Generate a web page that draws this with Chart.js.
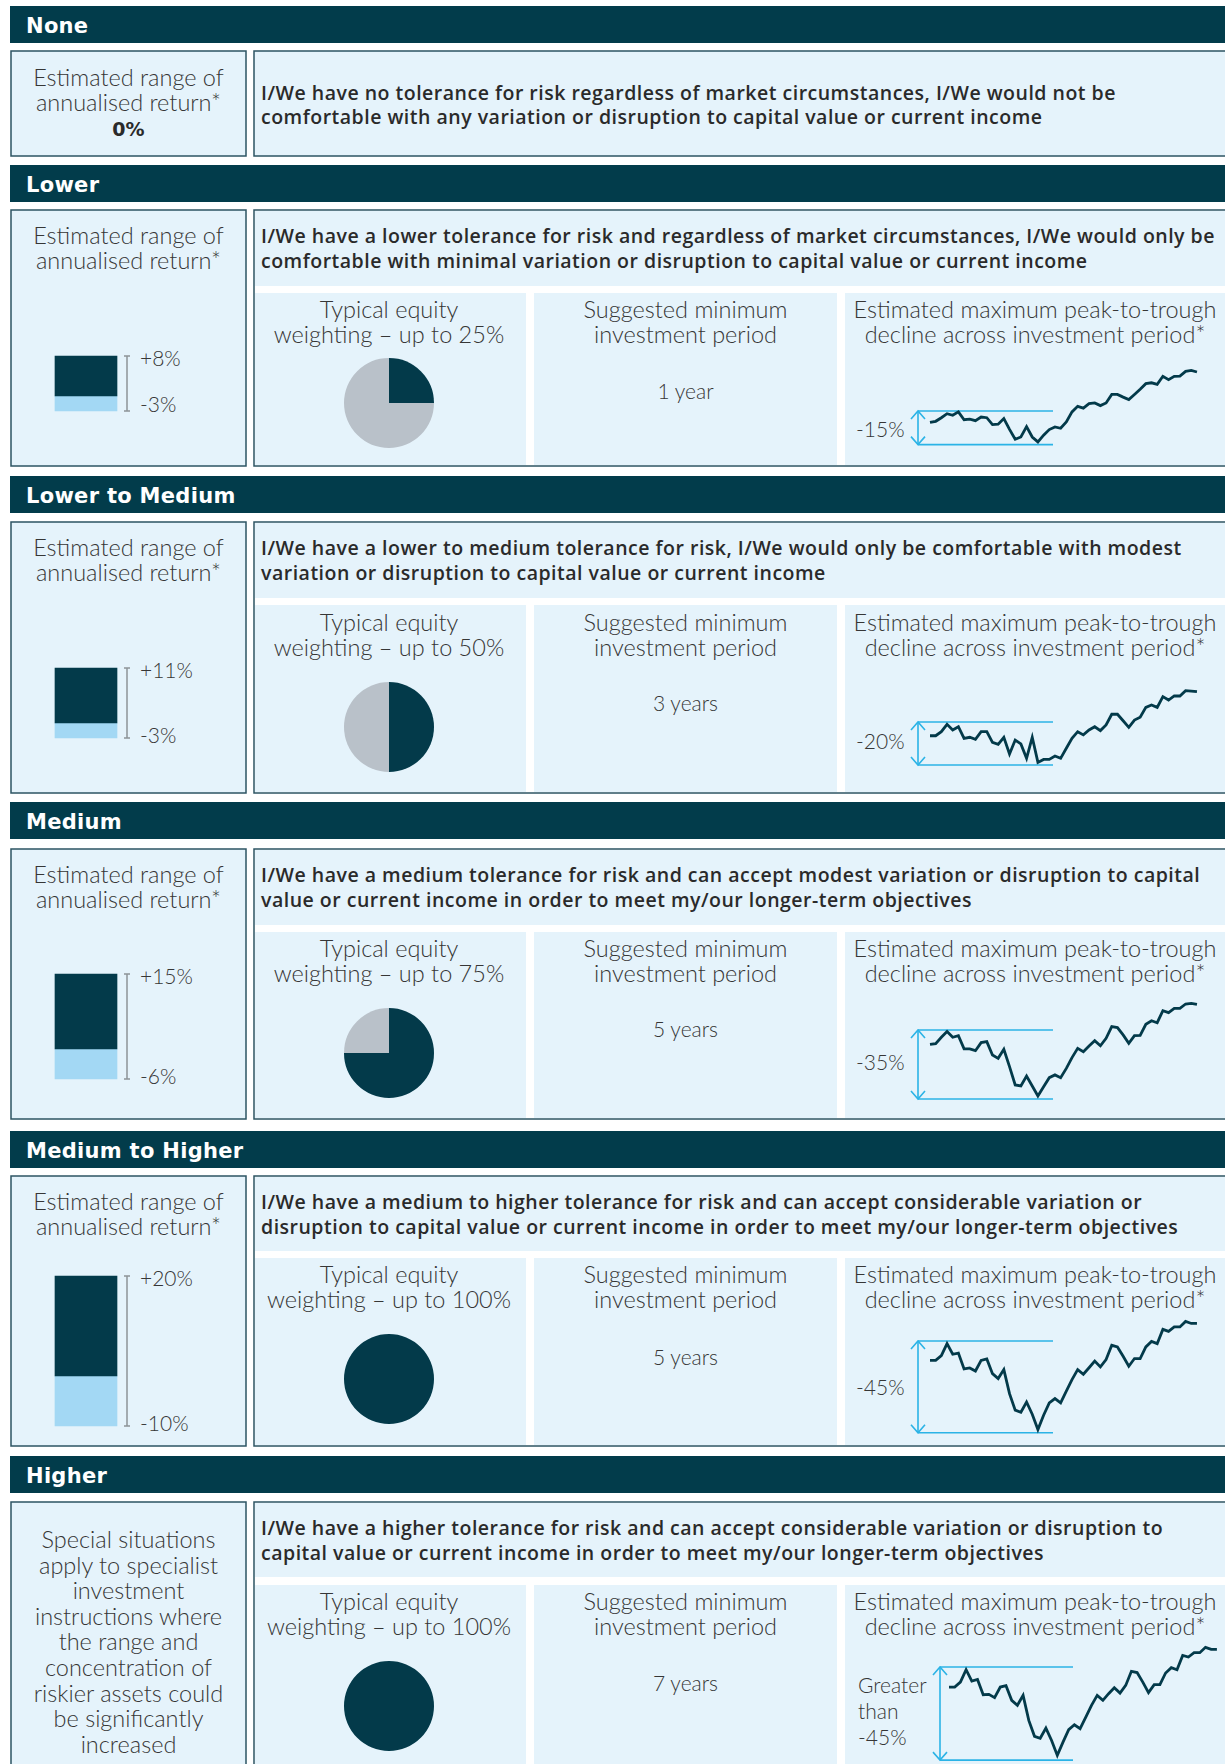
<!DOCTYPE html>
<html><head><meta charset="utf-8">
<script src="https://cdn.jsdelivr.net/npm/chart.js@4.4.1/dist/chart.umd.min.js"></script>
<style>
html,body{margin:0;padding:0;background:#fff;}
#page{position:relative;width:1225px;height:1764px;overflow:hidden;background:#fff;}
#bg{position:absolute;left:0;top:0;}
canvas{position:absolute;}
.h{font-family:'DejaVu Sans';font-weight:700;font-size:21px;fill:#fff;letter-spacing:0.3px;}
.d{font-family:'Open Sans';font-weight:600;font-size:19.5px;fill:#2a2a2a;}
.l{font-family:Lato;font-weight:300;font-size:23.5px;fill:#363636;}
.v{font-family:Lato;font-weight:300;font-size:21px;fill:#363636;}
.b{font-family:'DejaVu Sans';font-weight:700;font-size:19px;fill:#2a2a2a;}
</style></head><body>
<div id="page"><svg id="bg" width="1225" height="1764" xmlns="http://www.w3.org/2000/svg"></svg></div>
<script>
// ---------------- DATA ----------------
const profiles = ['None','Lower','Lower to Medium','Medium','Medium to Higher','Higher'];
const descriptions = [
 ['I/We have no tolerance for risk regardless of market circumstances, I/We would not be','comfortable with any variation or disruption to capital value or current income'],
 ['I/We have a lower tolerance for risk and regardless of market circumstances, I/We would only be','comfortable with minimal variation or disruption to capital value or current income'],
 ['I/We have a lower to medium tolerance for risk, I/We would only be comfortable with modest','variation or disruption to capital value or current income'],
 ['I/We have a medium tolerance for risk and can accept modest variation or disruption to capital','value or current income in order to meet my/our longer-term objectives'],
 ['I/We have a medium to higher tolerance for risk and can accept considerable variation or','disruption to capital value or current income in order to meet my/our longer-term objectives'],
 ['I/We have a higher tolerance for risk and can accept considerable variation or disruption to','capital value or current income in order to meet my/our longer-term objectives']
];
const returnTitle = ['Estimated range of','annualised return*'];
const returnUpper = [0, 8, 11, 15, 20, null];
const returnLower = [0, -3, -3, -6, -10, null];
const specialText = ['Special situations','apply to specialist','investment','instructions where','the range and','concentration of','riskier assets could','be significantly','increased'];
const equityTitle = 'Typical equity';
const equityWeighting = [null, 25, 50, 75, 100, 100];
const periodTitle = ['Suggested minimum','investment period'];
const minPeriodLabels = [null,'1 year','3 years','5 years','5 years','7 years'];
const declineTitle = ['Estimated maximum peak-to-trough','decline across investment period*'];
const maxDrawdown = [null, 15, 20, 35, 45, 45];
const drawdownLabels = [null, ['-15%'], ['-20%'], ['-35%'], ['-45%'], ['Greater','than','-45%']];
// illustrative paths (% relative to the prior peak)
const pathLower = [-5.1,-4.6,-3.0,-1.2,-1.9,-0.4,-3.9,-3.6,-4.3,-2.7,-3.0,-6.1,-5.9,-3.4,-8.2,-12.6,-11.6,-7.0,-11.6,-13.8,-10.8,-8.3,-7.1,-7.7,-4.9,-0.4,2.1,1.3,3.3,3.6,2.4,3.6,7.4,7.4,6.2,5.1,7.4,9.7,12.2,12.6,11.9,15.5,14.0,15.5,15.6,17.7,18.1,17.4];
const pathLowerMedium = [-6.4,-6.4,-4.5,-1.1,-3.7,-2.2,-7.6,-7.1,-8.1,-4.5,-4.5,-9.5,-10.4,-7.1,-14.9,-8.4,-10.2,-16.9,-7.1,-18.8,-17.4,-17.4,-15.8,-16.9,-12.2,-7.6,-4.5,-6.0,-3.7,-2.2,-4.0,-1.4,3.6,3.6,0.6,-2.5,0.9,2.2,6.8,7.9,6.8,11.8,10.2,12.1,12.1,14.6,14.4,14.1];
const pathMedium = [-7.3,-6.9,-3.7,-0.8,-3.7,-2.9,-9.6,-9.6,-10.5,-6.4,-5.9,-12.7,-14.4,-9.8,-18.6,-27.9,-28.4,-23.4,-28.4,-33.5,-28.8,-24.2,-22.8,-24.2,-19.5,-14.0,-9.3,-11.0,-8.1,-5.4,-8.0,-4.2,1.7,1.2,-2.5,-6.8,-2.9,-2.7,2.9,4.7,3.7,9.8,8.8,11.0,11.0,13.2,13.5,13.0];
const pathMediumHigher = [-9.5,-9.5,-7.2,-1.3,-6.5,-5.9,-13.7,-13.2,-14.7,-9.5,-8.8,-16.0,-18.4,-14.0,-25.8,-33.9,-34.9,-29.9,-35.9,-43.4,-36.4,-30.3,-28.2,-30.3,-24.6,-18.9,-14.0,-16.3,-13.1,-9.8,-12.7,-9.1,-2.1,-2.9,-7.5,-12.4,-8.6,-8.6,-2.9,-0.2,-1.3,5.7,4.7,6.9,6.9,9.6,8.6,8.6];
const pathHigher = [-9.7,-9.7,-7.3,-1.3,-6.8,-6.0,-13.4,-13.2,-14.8,-9.7,-9.0,-16.1,-18.5,-13.7,-25.8,-33.5,-34.4,-29.5,-35.5,-42.7,-36.3,-30.3,-27.9,-29.8,-24.2,-18.5,-13.7,-16.1,-12.9,-10.0,-12.6,-8.9,-2.1,-2.7,-7.3,-12.4,-8.5,-8.5,-2.9,-0.3,-1.3,5.6,4.8,6.9,6.9,9.5,8.5,8.5];
const paths = [null, pathLower, pathLowerMedium, pathMedium, pathMediumHigher, pathHigher];

// ---------------- STYLE / LAYOUT ----------------
const C = {dark:'#033a4a', header:'#023c4b', light:'#e5f3fb', border:'#2c5463', barLight:'#a3d8f4', pieGray:'#b9c1c9', cyan:'#2bb3e6', whisker:'#8d9498'};
const L = {
  headerX:10, headerW:1215, headerH:37,
  leftX:11, leftW:235, leftCx:128.5, rightX:254, rightW:990,
  descX:261, descTargetW:954,
  panelX:[255,534,845], panelW:[271,303,385], panelCx:[389,685.5,1035],
  barLeft:36, barW:100, barPpp:5, barLabelX:140, pieR:45, ddX:856,
  sections:[
   {hdr:6, top:51, bot:156},
   {hdr:165, top:210, bot:466, band:286, panel:293, title:318, value:399, dd:437, pieY:403, barZero:396, lblBot:1,
    line:{left:895, top:355, w:315, h:100, x0:930, step:5.68, zeroY:411, ppp:2.24, gs:918, ge:1053}},
   {hdr:476, top:522, bot:793, band:598, panel:605, title:631, value:711, dd:749, pieY:727, barZero:723,
    line:{left:895, top:665, w:315, h:110, x0:930, step:5.68, zeroY:722, ppp:2.15, gs:918, ge:1053}},
   {hdr:802, top:849, bot:1119, band:925, panel:932, title:957, value:1037, dd:1070, pieY:1053, barZero:1049,
    line:{left:895, top:990, w:315, h:120, x0:930, step:5.68, zeroY:1030, ppp:1.97, gs:918, ge:1053}},
   {hdr:1131, top:1176, bot:1446, band:1251, panel:1258, title:1283, value:1365, dd:1395, pieY:1379, barZero:1376,
    line:{left:895, top:1305, w:315, h:140, x0:930, step:5.68, zeroY:1341, ppp:2.04, gs:918, ge:1053}},
   {hdr:1456, top:1502, bot:1790, band:1577, panel:1585, title:1610, value:1691, dd:1693, pieY:1706, ddX:858,
    line:{left:915, top:1630, w:310, h:134, x0:949, step:5.70, zeroY:1667, ppp:2.07, gs:940, ge:1073}}
  ]
};

// ---------------- BUILD ----------------
const svg = document.getElementById('bg');
const page = document.getElementById('page');
const NS = 'http://www.w3.org/2000/svg';
function el(tag, attrs, text){ const e=document.createElementNS(NS,tag); for(const k in attrs) e.setAttribute(k, attrs[k]); if(text!=null) e.textContent=text; svg.appendChild(e); return e; }
function rect(x,y,w,h,fill,stroke){ const a={x,y,width:w,height:h,fill}; if(stroke){a.stroke=stroke;a['stroke-width']=1.5;} return el('rect',a); }
function txt(x,y,s,cls,anchor){ return el('text',{x,y,'class':cls,'text-anchor':anchor||'start'},s); }
function addCanvas(left, top, w, h){ const c=document.createElement('canvas'); c.width=w; c.height=h; c.style.left=left+'px'; c.style.top=top+'px'; c.style.width=w+'px'; c.style.height=h+'px'; page.appendChild(c); return c; }
const common = {responsive:false, animation:false, events:[], layout:{padding:0}, plugins:{legend:{display:false}, tooltip:{enabled:false}}};

// calibrate description tracking so the longest line spans the box like the original
const cal = txt(0, -50, descriptions[1][0], 'd');
const descSpacing = (L.descTargetW - cal.getComputedTextLength()) / descriptions[1][0].length;
svg.removeChild(cal);
function desc(x, y, s){ const t = txt(x, y, s, 'd'); t.style.letterSpacing = descSpacing + 'px'; return t; }

const whiskerPlugin = {id:'whisker', afterDatasetsDraw(chart, args, o){
  const {ctx, scales:{y}} = chart; const bar = chart.getDatasetMeta(0).data[0];
  const xp = bar.x + bar.width/2 + 10, t = y.getPixelForValue(o.max), b = y.getPixelForValue(o.min);
  ctx.save(); ctx.strokeStyle=C.whisker; ctx.lineWidth=1.5; ctx.beginPath();
  ctx.moveTo(xp,t); ctx.lineTo(xp,b); ctx.moveTo(xp-3,t); ctx.lineTo(xp+3,t); ctx.moveTo(xp-3,b); ctx.lineTo(xp+3,b);
  ctx.stroke(); ctx.restore(); }};
const arrowPlugin = {id:'arrows', afterDatasetsDraw(chart, args, o){
  const {ctx, scales:{x,y}} = chart; const px=x.getPixelForValue(o.x), t=y.getPixelForValue(o.top), b=y.getPixelForValue(o.bottom);
  ctx.save(); ctx.strokeStyle=C.cyan; ctx.lineWidth=1.6; ctx.beginPath();
  ctx.moveTo(px-7,t+8); ctx.lineTo(px,t); ctx.lineTo(px+7,t+8);
  ctx.moveTo(px-7,b-8); ctx.lineTo(px,b); ctx.lineTo(px+7,b-8);
  ctx.stroke(); ctx.restore(); }};

L.sections.forEach((S, i) => {
  // header
  rect(L.headerX, S.hdr, L.headerW, L.headerH, C.header);
  txt(26, S.hdr + 26.5, profiles[i], 'h');
  // left box
  rect(L.leftX, S.top, L.leftW, S.bot - S.top, C.light, C.border);
  // right box
  rect(L.rightX, S.top, L.rightW, S.bot - S.top, i === 0 ? C.light : '#fff', C.border);
  if (i === 0) {
    txt(L.leftCx, S.top + 35, returnTitle[0], 'l', 'middle');
    txt(L.leftCx, S.top + 60, returnTitle[1], 'l', 'middle');
    txt(L.leftCx, S.top + 85, returnUpper[0] + '%', 'b', 'middle');
    desc(L.descX, S.top + 49, descriptions[i][0]);
    desc(L.descX, S.top + 73, descriptions[i][1]);
    return;
  }
  rect(L.rightX + 1, S.top + 1, L.rightW, S.band - S.top - 1, C.light);
  L.panelX.forEach((px, k) => rect(px, S.panel, L.panelW[k], S.bot - S.panel - 1, C.light));
  desc(L.descX, S.top + 33, descriptions[i][0]);
  desc(L.descX, S.top + 57.5, descriptions[i][1]);
  // left box content
  if (returnUpper[i] !== null) {
    txt(L.leftCx, S.top + 34, returnTitle[0], 'l', 'middle');
    txt(L.leftCx, S.top + 59, returnTitle[1], 'l', 'middle');
    const up = returnUpper[i], lo = returnLower[i];
    const cTop = S.barZero - up * L.barPpp - 15, cH = (up - lo) * L.barPpp + 30;
    const c = addCanvas(L.barLeft, cTop, L.barW, cH);
    const ymax = (S.barZero - cTop) / L.barPpp, ymin = ymax - cH / L.barPpp;
    new Chart(c, {type:'bar', data:{labels:['range'], datasets:[
        {data:[up], backgroundColor:C.dark, barThickness:62, borderWidth:0},
        {data:[lo], backgroundColor:C.barLight, barThickness:62, borderWidth:0}]},
      options:{...common, scales:{x:{display:false, stacked:true}, y:{display:false, stacked:true, min:ymin, max:ymax}},
        plugins:{...common.plugins, whisker:{max:up, min:lo}}}, plugins:[whiskerPlugin]});
    const barTopPx = S.barZero - up * L.barPpp, barBotPx = S.barZero - lo * L.barPpp;
    txt(L.barLabelX, barTopPx + 10, '+' + up + '%', 'v');
    txt(L.barLabelX, barBotPx + (S.lblBot != null ? S.lblBot : 5), lo + '%', 'v');
  } else {
    specialText.forEach((s, k) => txt(L.leftCx, S.top + 46 + k * 25.6, s, 'l', 'middle'));
  }
  // panel titles
  txt(L.panelCx[0], S.title, equityTitle, 'l', 'middle');
  txt(L.panelCx[0], S.title + 25, 'weighting – up to ' + equityWeighting[i] + '%', 'l', 'middle');
  txt(L.panelCx[1], S.title, periodTitle[0], 'l', 'middle');
  txt(L.panelCx[1], S.title + 25, periodTitle[1], 'l', 'middle');
  txt(L.panelCx[2], S.title, declineTitle[0], 'l', 'middle');
  txt(L.panelCx[2], S.title + 25, declineTitle[1], 'l', 'middle');
  txt(L.panelCx[1], S.value, minPeriodLabels[i], 'v', 'middle');
  // pie
  const pc = addCanvas(L.panelCx[0] - L.pieR, S.pieY - L.pieR, 2 * L.pieR, 2 * L.pieR);
  new Chart(pc, {type:'pie', data:{labels:['Equity','Other'], datasets:[{data:[equityWeighting[i], 100 - equityWeighting[i]],
      backgroundColor:[C.dark, C.pieGray], borderWidth:0}]}, options:{...common}});
  // drawdown labels
  drawdownLabels[i].forEach((s, k) => txt(S.ddX || L.ddX, S.dd + k * 26, s, 'v'));
  // line chart
  const G = S.line, D = maxDrawdown[i];
  const xmin = (G.left - G.x0) / G.step, xmax = xmin + G.w / G.step;
  const ymax = (G.zeroY - G.top) / G.ppp, ymin = ymax - G.h / G.ppp;
  const gs = (G.gs - G.x0) / G.step, ge = (G.ge - G.x0) / G.step;
  const lc = addCanvas(G.left, G.top, G.w, G.h);
  const guide = {borderColor:C.cyan, borderWidth:1.6, pointRadius:0, tension:0};
  new Chart(lc, {type:'line', data:{datasets:[
      {data:paths[i].map((v, k) => ({x:k, y:v})), borderColor:C.dark, borderWidth:2.8, pointRadius:0, tension:0},
      {...guide, data:[{x:gs, y:0}, {x:ge, y:0}]},
      {...guide, data:[{x:gs, y:-D}, {x:ge, y:-D}]},
      {...guide, data:[{x:gs, y:0}, {x:gs, y:-D}]}]},
    options:{...common, scales:{x:{type:'linear', display:false, min:xmin, max:xmax}, y:{display:false, min:ymin, max:ymax}},
      plugins:{...common.plugins, arrows:{x:gs, top:0, bottom:-D}}}, plugins:[arrowPlugin]});
});
</script>
</body></html>
